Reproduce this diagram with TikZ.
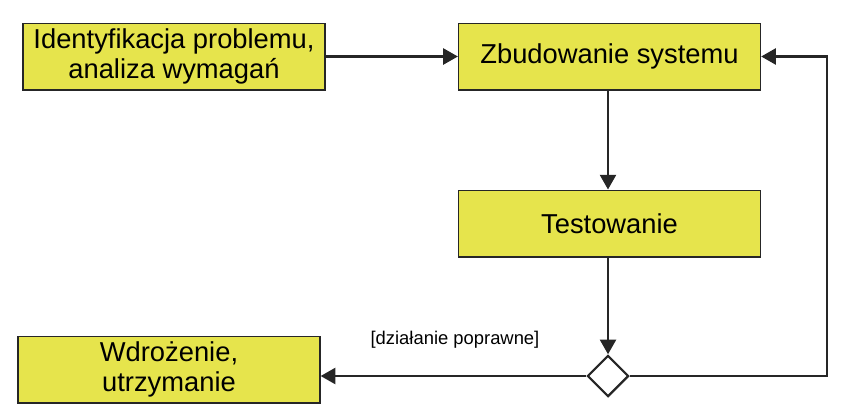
\documentclass[tikz,border=0pt]{standalone}
\usepackage{fontspec}
\setmainfont{Liberation Sans}
\usepackage{tikz}
\usetikzlibrary{arrows.meta}
\usetikzlibrary{shapes.geometric}

\definecolor{boxfill}{RGB}{230,228,76}

\begin{document}
\begin{tikzpicture}[x=0.75pt,y=0.75pt,yscale=-1,xscale=1,
  stagebox/.style={draw=black!85,line width=1pt,fill=boxfill,minimum width=226.5pt,minimum height=50pt,inner sep=0pt,align=center,font=\fontsize{20.5}{23}\selectfont},
  flow/.style={draw=black!85,line width=1.8pt,-{Triangle[length=11pt,width=12pt]}}]
\useasboundingbox (0,0) rectangle (855,414);

%Stages
\node [stagebox] (ident) at (174,56.5) {Identyfikacja problemu,\\analiza wymaga\'n};
\node [stagebox] (build) at (609.5,56.5) {Zbudowanie systemu};
\node [stagebox] (test) at (609.5,223.5) {Testowanie};
\node [stagebox] (deploy) at (169,369.5) {Wdro\.zenie,\\utrzymanie};

%Decision
\node [diamond,draw=black!85,line width=1.6pt,fill=white,minimum width=31pt,minimum height=31pt,inner sep=0pt] (decide) at (608,376) {};
\coordinate (back) at (827,376);

%Connectors
\draw [flow] (ident) -- (build);
\draw [flow] (build.south -| decide) -- (test.north -| decide);
\draw [flow] (test.south -| decide) -- (decide.north);
\draw [flow] (decide.west) -- (deploy.east |- decide);
\draw [flow] (decide.east) -- (back) -- (back |- build) -- (build.east);

%Guard label
\node [font=\fontsize{13.8}{16}\selectfont] (guard) at (455,340) {[dzia\l{}anie poprawne]};

\end{tikzpicture}
\end{document}
